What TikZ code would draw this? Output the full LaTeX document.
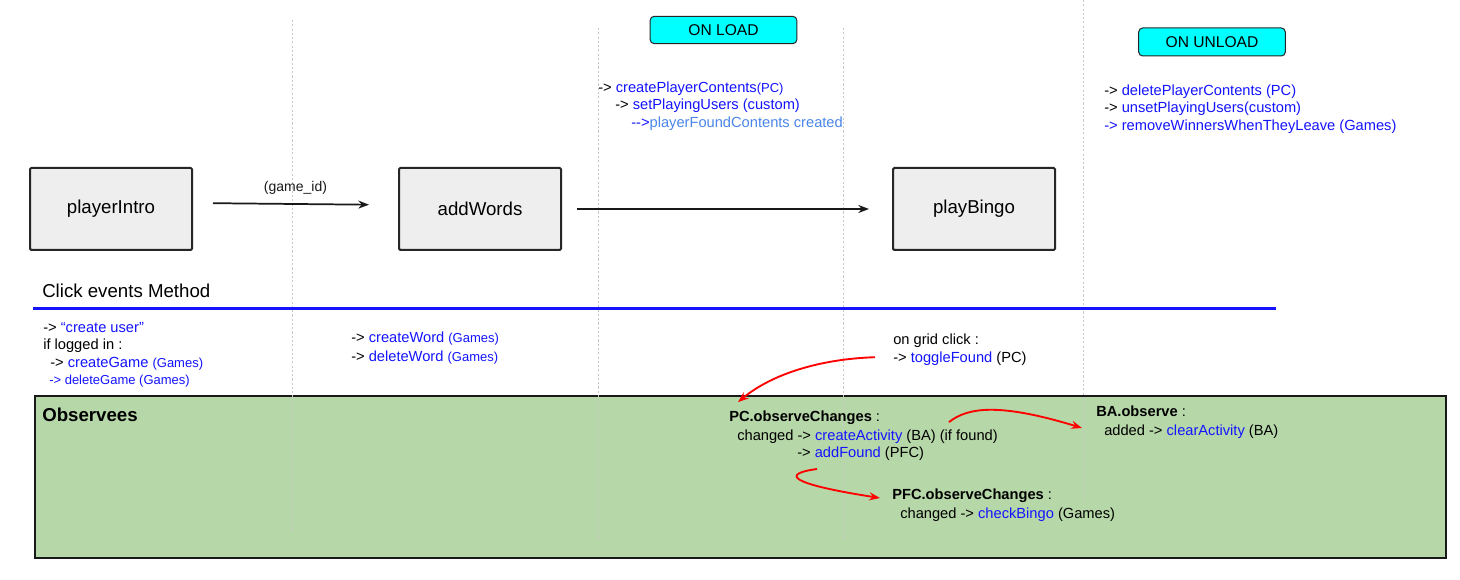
\documentclass[tikz,border=0pt]{standalone}
\usepackage{fontspec}
\setmainfont{Liberation Sans}
\usetikzlibrary{positioning,arrows.meta}

\definecolor{fnblue}{RGB}{20,20,255}
\definecolor{noteblue}{RGB}{74,134,232}
\definecolor{screenfill}{RGB}{238,238,238}
\definecolor{obsgreen}{RGB}{182,215,168}
\definecolor{phasecyan}{RGB}{0,255,255}
\definecolor{guidegray}{RGB}{200,200,200}

\newcommand{\sm}[1]{{\fontsize{9.75}{12}\selectfont #1}}
\newcommand{\fn}[1]{\textcolor{fnblue}{#1}}

\tikzset{
  screen/.style={draw=black!85, line width=1.5pt, fill=screenfill, rounded corners=1pt,
    minimum width=121.5pt, minimum height=61.5pt, inner sep=0pt, font=\fontsize{14}{17}\selectfont},
  phase/.style={draw=black!85, line width=0.75pt, fill=phasecyan, rounded corners=3pt,
    minimum width=110pt, minimum height=20.5pt, inner sep=0pt, font=\fontsize{11.7}{14}\selectfont},
  txt/.style={anchor=base west, inner sep=0pt, font=\fontsize{11}{13}\selectfont},
  head/.style={anchor=base west, inner sep=0pt, font=\fontsize{14}{17}\selectfont},
  guide/.style={guidegray, line width=0.6pt, dash pattern=on 1.6pt off 1.6pt},
  flow/.style={-{Stealth[length=8pt,width=6pt]}, line width=1.3pt, black!90},
  hook/.style={-{Stealth[length=8pt,width=6pt]}, red, line width=1.4pt}
}

\begin{document}
\begin{tikzpicture}[x=0.75pt, y=-0.75pt]
    % Page
    \fill[white] (0,0) rectangle (1460,580);
    \useasboundingbox (0,0) rectangle (1460,580);

    % Observees area
    \draw[fill=obsgreen, draw=black!90, line width=1pt] (35,396) rectangle (1446,558);

    % Column guides (dotted)
    \foreach \gx/\gtop/\gbot in {292/20/530, 598/28/540, 843/28/540, 1083/0/503} {
        \draw[guide] (\gx,\gtop) -- (\gx,\gbot);
    }

    % Load / unload phases
    \node[phase] (onload) at (723.5,30) {ON LOAD};
    \node[phase, minimum height=21pt] (onunload) at (1212,42) {ON UNLOAD};

    % On load calls
    \node[txt] (load1) at (598,93) {-> \fn{createPlayerContents}\fn{\sm{(PC)}}};
    \node[txt] (load2) at (615,110) {-> \fn{setPlayingUsers (custom)}};
    \node[txt] (load3) at (631,128) {\fn{-{}->}\textcolor{noteblue}{playerFoundContents created}};

    % On unload calls
    \node[txt] (unload1) at (1104,96) {-> \fn{deletePlayerContents (PC)}};
    \node[txt] (unload2) at (1104,113) {-> \fn{unsetPlayingUsers(custom)}};
    \node[txt] (unload3) at (1104,131) {\fn{-> removeWinnersWhenTheyLeave (Games)}};

    % Screens
    \node[screen] (intro) at (111,209) {playerIntro};
    \node[screen] (words) at (480,209) {addWords};
    \node[screen] (bingo) at (974,209) {playBingo};

    % Screen flow
    \draw[flow, shorten <=15pt, shorten >=21.75pt] ([yshift=4.5pt]intro.east) -- ([yshift=3pt]words.west)
        node[midway, above=6.5pt, inner sep=0pt, font=\fontsize{10.5}{12}\selectfont] (gameid) {(game\_id)};
    \draw[flow, shorten <=11.25pt, shorten >=17.25pt] (words.east) -- (bingo.west);

    % Click events
    \node[head] (clicktitle) at (42,298) {Click events Method};
    \draw[fnblue, line width=2.25pt] (33,309) -- (1276,309);

    \node[txt] (click1) at (43,333) {-> \fn{“create user”}};
    \node[txt] (click2) at (43,350) {if logged in :};
    \node[txt] (click3) at (50,368) {-> \fn{createGame} \fn{\sm{(Games)}}};
    \node[txt] (click4) at (49,385) {\fn{\sm{-> deleteGame (Games)}}};

    \node[txt] (word1) at (351,343) {-> \fn{createWord} \fn{\sm{(Games)}}};
    \node[txt] (word2) at (351,362) {-> \fn{deleteWord} \fn{\sm{(Games)}}};

    \node[txt] (grid1) at (893,345) {on grid click :};
    \node[txt] (grid2) at (893,363) {-> \fn{toggleFound} (PC)};

    % Observees
    \node[head, font=\fontsize{14}{17}\selectfont\bfseries] (obstitle) at (42,422) {Observees};

    \node[txt] (pcobs) at (729,422) {\textbf{PC.observeChanges} :};
    \node[txt] (pc1) at (737,441) {changed -> \fn{createActivity} (BA) (if found)};
    \node[txt] (pc2) at (797,458) {-> \fn{addFound} (PFC)};

    \node[txt] (baobs) at (1096,417) {\textbf{BA.observe} :};
    \node[txt] (ba1) at (1104,436) {added -> \fn{clearActivity} (BA)};

    \node[txt] (pfcobs) at (892,500) {\textbf{PFC.observeChanges} :};
    \node[txt] (pfc1) at (900,518) {changed -> \fn{checkBingo} (Games)};

    % Red call chain
    \draw[hook] ([shift={(-18,-2)}]grid2.west) .. controls (820,359) and (772,374) .. ([shift={(9,-9)}]pcobs.north west);
    \draw[hook] ([shift={(-49,-8)}]pc1.north east) .. controls (968,407) and (1000,403) .. ([shift={(-14,11)}]baobs.base west);
    \draw[hook] ([shift={(20,11)}]pc2.base west) .. controls (780,474) and (790,484) .. ([shift={(-12,-2)}]pfcobs.base west);
\end{tikzpicture}
\end{document}
